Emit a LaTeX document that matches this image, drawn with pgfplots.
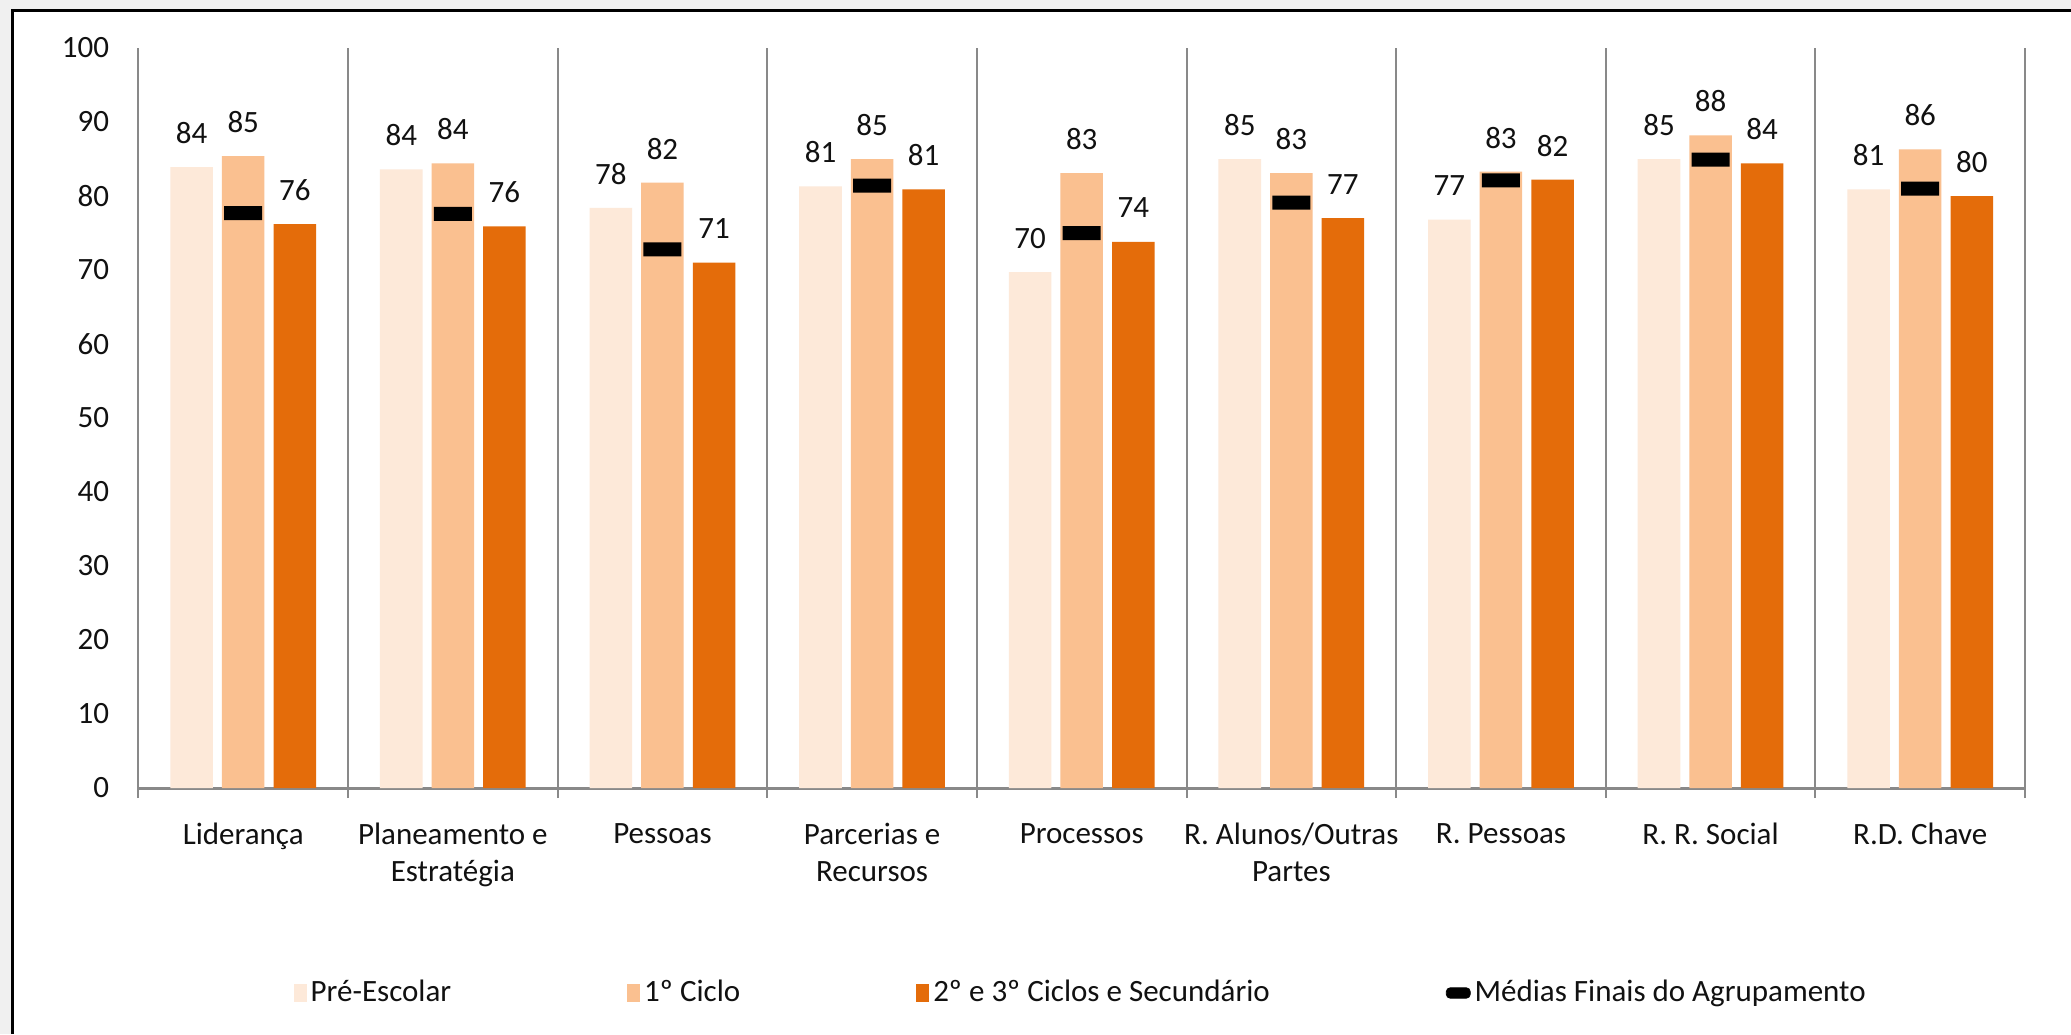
\documentclass[border=0pt]{standalone}
\usepackage{pgfplots}
\pgfplotsset{compat=1.18}
\usepackage{fontspec}
\setmainfont{Carlito}
\definecolor{c1}{HTML}{FDE9D9}
\definecolor{c2}{HTML}{FAC090}
\definecolor{c3}{HTML}{E46C0A}
\definecolor{gridc}{HTML}{898989}
\definecolor{bgc}{HTML}{F0F0F0}
\definecolor{txt}{HTML}{111111}
\pgfdeclareplotmark{avg}{%
  \pgfsetcornersarced{\pgfpoint{2.5pt}{2.5pt}}%
  \pgfpathmoveto{\pgfpoint{-9.5pt}{0pt}}%
  \pgfpathlineto{\pgfpoint{-9.5pt}{3.5pt}}%
  \pgfpathlineto{\pgfpoint{9.5pt}{3.5pt}}%
  \pgfpathlineto{\pgfpoint{9.5pt}{-3.5pt}}%
  \pgfpathlineto{\pgfpoint{-9.5pt}{-3.5pt}}%
  \pgfpathclose
  \pgfusepathqfill}
\begin{document}
\fontsize{15.5}{18.5}\selectfont
\begin{tikzpicture}
\fill[bgc] (0,0) rectangle (1035.5pt,-517pt);
\fill[white] (6.25pt,-5.4pt) rectangle (1035.5pt,-517pt);
\draw[line width=1.5pt] (6.25pt,-517pt) -- (6.25pt,-5.4pt) -- (1036pt,-5.4pt);
\begin{axis}[
  at={(69.2pt,-394pt)}, anchor=south west,
  scale only axis, width=943.3pt, height=370pt,
  xmin=-0.5, xmax=8.5, ymin=0, ymax=100,
  ytick={0,10,...,100},
  xtick={0,...,8},
  xticklabels={Liderança,{Planeamento e\\Estratégia},Pessoas,{Parcerias e\\Recursos},Processos,{R. Alunos/Outras\\Partes},R. Pessoas,R. R. Social,R.D. Chave},
  minor xtick={-0.5,0.5,1.5,2.5,3.5,4.5,5.5,6.5,7.5,8.5},
  major tick length=0pt, minor tick length=5pt, tick align=outside,
  xminorgrids=true,
  minor x grid style={gridc, line width=1pt},
  minor tick style={gridc, line width=1pt},
  ytick style={draw=none},
  axis x line*=bottom, axis y line*=left,
  x axis line style={gridc, line width=1.5pt},
  y axis line style={draw=none},
  /pgf/number format/assume math mode=true,
  yticklabel style={xshift=-9.3pt, text=txt},
  xticklabel style={align=center, anchor=north, yshift=-17.5pt, inner sep=0pt, text=txt},
  clip=false,
  every node near coord/.append style={anchor=center, yshift=17pt, text=txt, font=\fontsize{15.5}{18.5}\selectfont},
  legend columns=4,
  legend style={draw=none, fill=none, at={(0.5,-0.277)}, anchor=center,
    /tikz/every even column/.append style={column sep=86pt},
    font=\fontsize{15.5}{18.5}\selectfont, text=txt},
]
\addplot[ybar, bar width=0.203, bar shift=0, fill=c1, draw=none,
  nodes near coords={\pgfmathprintnumber[fixed,precision=0]{\pgfplotspointmeta}},
  legend image code/.code={\fill[c1] (0pt,-4.5pt) rectangle (6.5pt,4.5pt);}]
  coordinates {(-0.246,83.9) (0.754,83.6) (1.754,78.4) (2.754,81.3) (3.754,69.7) (4.754,85.0) (5.754,76.8) (6.754,85.0) (7.754,80.9)};
\addplot[ybar, bar width=0.203, bar shift=0, fill=c2, draw=none,
  nodes near coords={\pgfmathprintnumber[fixed,precision=0]{\pgfplotspointmeta}},
  legend image code/.code={\fill[c2] (0pt,-4.5pt) rectangle (6.5pt,4.5pt);}]
  coordinates {(0,85.4) (1,84.4) (2,81.8) (3,85.0) (4,83.1) (5,83.1) (6,83.3) (7,88.2) (8,86.3)};
\addplot[ybar, bar width=0.203, bar shift=0, fill=c3, draw=none,
  nodes near coords={\pgfmathprintnumber[fixed,precision=0]{\pgfplotspointmeta}},
  legend image code/.code={\fill[c3] (0pt,-4.5pt) rectangle (6.5pt,4.5pt);}]
  coordinates {(0.246,76.2) (1.246,75.9) (2.246,71.0) (3.246,80.9) (4.246,73.8) (5.246,77.0) (6.246,82.2) (7.246,84.4) (8.246,80.0)};
\addplot[only marks, mark=avg, black,
  legend image code/.code={\fill[black, rounded corners=2pt] (0pt,-2.6pt) rectangle (12pt,2.6pt);}]
  coordinates {(0,77.7) (1,77.6) (2,72.8) (3,81.4) (4,75.0) (5,79.1) (6,82.1) (7,84.9) (8,81.0)};
\legend{Pré-Escolar,1º Ciclo,2º e 3º Ciclos e Secundário,Médias Finais do Agrupamento}
\end{axis}
\pgfresetboundingbox
\useasboundingbox (0,0) rectangle (1035.5pt,-517pt);
\end{tikzpicture}
\end{document}
